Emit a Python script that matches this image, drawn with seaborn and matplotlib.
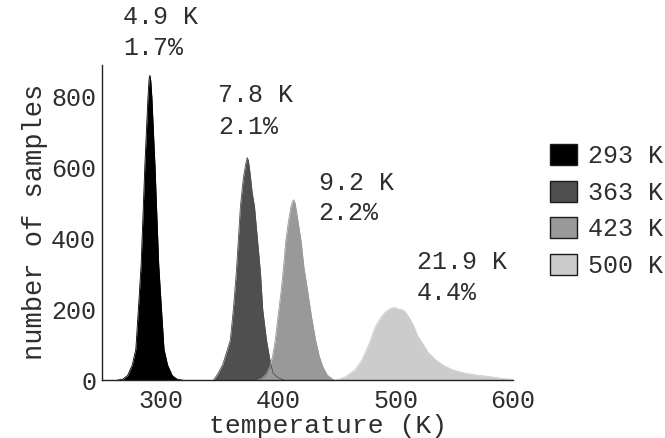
import matplotlib
matplotlib.use("Agg")
import matplotlib.pyplot as plt
import seaborn as sns
from matplotlib.patches import Patch
from matplotlib.ticker import MultipleLocator

# ---- data ----
labels = ["293 K", "363 K", "423 K", "500 K"]
colors = ["#000000", "#4f4f4f", "#999999", "#cccccc"]

temp_293 = [262, 268, 272, 276, 279, 281.5, 283.5, 285.5, 286.7, 288, 289.3, 290.3, 291,
            291.7, 292.7, 294, 295.3, 296.5, 298.5, 300.5, 303, 306, 310, 314, 320]
count_293 = [0, 4, 14, 44, 88, 218, 326, 500, 607, 700, 796, 850, 860,
             845, 796, 700, 607, 500, 326, 218, 88, 44, 14, 4, 0]

temp_363 = [345, 349, 353, 359.4, 362, 364.5, 368, 370.5, 372.5, 373.8, 374.8, 376, 378,
            380, 385.1, 387, 390.2, 393, 395.7, 400, 406]
count_363 = [0, 20, 45, 114, 200, 303, 490, 570, 610, 628, 620, 590, 530,
             490, 303, 200, 114, 60, 21, 8, 0]

temp_423 = [382, 386, 390, 393.1, 395.5, 397.7, 400, 402.8, 405, 406.7, 409, 411, 412.5,
            413.3, 414.5, 416, 419.5, 422, 425.1, 428.5, 432, 435, 438.1, 442, 448]
count_423 = [0, 6, 18, 39, 70, 114, 180, 255, 330, 396, 450, 490, 505,
             509, 500, 470, 396, 320, 255, 180, 114, 70, 39, 15, 0]

temp_500 = [448, 452, 457.6, 465.6, 471.4, 477.7, 482.8, 488, 492, 496, 499, 502, 505,
            508, 512, 515.7, 519, 522.9, 528, 534.3, 541, 548.6, 560, 570, 580.2, 590, 600]
count_500 = [0, 4, 11, 30, 58, 105, 152, 180, 195, 203, 206, 202, 200,
             195, 175, 152, 125, 105, 78, 58, 42, 30, 20, 15, 11, 6, 3]

std_text = ["4.9 K", "7.8 K", "9.2 K", "21.9 K"]
rel_text = ["1.7%", "2.1%", "2.2%", "4.4%"]
note_x = [268.3, 348.8, 434.5, 518.5]
note_y1 = [1024, 805, 557, 334]
note_y2 = [937, 714, 472, 247]

xticks = [300, 400, 500, 600]
yticks = [0, 200, 400, 600, 800]

# ---- drawing ----
sns.set_style("white")
plt.rcParams["font.family"] = ["Liberation Mono", "DejaVu Sans Mono"]

fig = plt.figure(figsize=(6.65, 4.38), dpi=100)
ax = fig.add_axes([0.153, 0.1313, 0.6184, 0.7203])

series = [(temp_293, count_293), (temp_363, count_363),
          (temp_423, count_423), (temp_500, count_500)]
for (t, c), col in zip(series, colors):
    ax.fill_between(t, c, 0, color=col, linewidth=0)
    sns.lineplot(x=t, y=c, color=col, linewidth=0.6, ax=ax, sort=False)

txt_color = "#2e2e2e"
fs = 18
for x, y1, y2, s1, s2 in zip(note_x, note_y1, note_y2, std_text, rel_text):
    ax.text(x, y1, s1, fontsize=fs, color=txt_color, va="center", ha="left", clip_on=False)
    ax.text(x, y2, s2, fontsize=fs, color=txt_color, va="center", ha="left", clip_on=False)

ax.set_xlim(250, 600)
ax.set_ylim(0, 889)
ax.set_xticks(xticks)
ax.set_yticks(yticks)
ax.xaxis.set_minor_locator(MultipleLocator(50))
ax.tick_params(axis="both", which="both", direction="in", length=4, width=1,
               colors="#222222", labelsize=fs, labelcolor=txt_color)
ax.tick_params(axis="x", which="both", pad=6)
ax.tick_params(axis="y", pad=4)

for s in ["top", "right"]:
    ax.spines[s].set_visible(False)
for s in ["left", "bottom"]:
    ax.spines[s].set_color("#222222")
    ax.spines[s].set_linewidth(1.0)

ax.set_xlabel("temperature (K)", fontsize=19, color=txt_color)
ax.set_ylabel("number of samples", fontsize=19.5, color=txt_color)
ax.xaxis.set_label_coords(0.55, -0.106)
ax.yaxis.set_label_coords(-0.13, 0.503)

handles = [Patch(facecolor=c, edgecolor="#1a1a1a", linewidth=1) for c in colors]
fig.legend(handles, labels, loc="upper left", bbox_to_anchor=(550 / 665, 1 - 144 / 438),
           frameon=False, fontsize=fs, handlelength=1.08, handleheight=0.92,
           labelspacing=0.5, handletextpad=0.45, borderpad=0, borderaxespad=0,
           labelcolor=txt_color)

fig.savefig("out.png", dpi=100)
